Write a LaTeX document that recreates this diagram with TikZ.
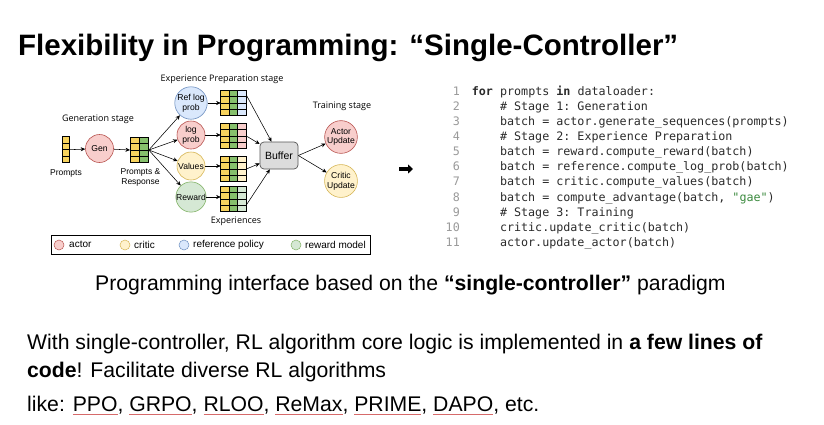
\documentclass[tikz,border=0pt]{standalone}
\usepackage{fontspec}
\setmainfont{Liberation Sans}
\setmonofont{DejaVu Sans Mono}
\newfontfamily\diafont{Open Sans}
\usetikzlibrary{arrows.meta}
\definecolor{actorfill}{HTML}{F8CECC}\definecolor{actordraw}{HTML}{B85450}
\definecolor{criticfill}{HTML}{FFF2CC}\definecolor{criticdraw}{HTML}{D6B656}
\definecolor{reffill}{HTML}{DAE8FC}\definecolor{refdraw}{HTML}{6C8EBF}
\definecolor{rewfill}{HTML}{D5E8D4}\definecolor{rewdraw}{HTML}{82B366}
\definecolor{ycell}{HTML}{F7D35E}\definecolor{gcell}{HTML}{86C06C}
\definecolor{buffill}{HTML}{DCDCDC}\definecolor{bufdraw}{HTML}{555555}
\definecolor{codecol}{HTML}{2B2B2B}\definecolor{numcol}{HTML}{9A9A9A}
\definecolor{strcol}{HTML}{3B8A3E}
\definecolor{linkblue}{HTML}{1C1CB8}\definecolor{ulred}{HTML}{D66A6A}
\newsavebox\lnkbox
\newcommand\lnk[1]{\sbox\lnkbox{#1}\rlap{\color{ulred}\vrule height -2.6pt depth 3.5pt width \wd\lnkbox}\textcolor{linkblue}{\usebox\lnkbox}}
\newcommand\cellgrid[6]{%
  \foreach \cc [count=\ii from 0] in {#6} {
    \foreach \rr in {0,1,2,3} {
      \draw[cellline, fill=\cc] ({#2+\ii*#4},{#3+\rr*6.4}) rectangle ++(#4,6.4);
    }
  }
  \node[inner sep=0, minimum width={#4*#5*1pt}, minimum height=25.6pt, anchor=north west] (#1) at (#2,#3) {};
}
\begin{document}
\begin{tikzpicture}[x=1pt,y=-1pt,
  cellline/.style={draw=black, line width=0.5pt},
  circ/.style={circle, minimum size=28pt, inner sep=0pt, align=center, line width=0.6pt,
     font=\fontsize{8.6}{9.8}\selectfont},
  actorn/.style={circ, fill=actorfill, draw=actordraw},
  criticn/.style={circ, fill=criticfill, draw=criticdraw},
  refn/.style={circ, fill=reffill, draw=refdraw},
  rewn/.style={circ, fill=rewfill, draw=rewdraw},
  arr/.style={-{Stealth[length=4.5pt,width=4pt]}, line width=0.55pt, black},
  stagelbl/.style={font=\diafont\fontsize{9}{10}\selectfont, inner sep=0pt},
  lbl/.style={font=\fontsize{8.5}{10}\selectfont, inner sep=0pt, align=center},
  legc/.style={circle, minimum size=10pt, inner sep=0pt, line width=0.5pt},
  legt/.style={font=\fontsize{10}{11}\selectfont, inner sep=0pt, anchor=west},
  codeln/.style={font=\ttfamily\fontsize{11.7}{12}\selectfont\frenchspacing, text=codecol, anchor=base west, inner sep=0pt},
  numln/.style={font=\ttfamily\fontsize{11.7}{12}\selectfont, text=numcol, anchor=base east, inner sep=0pt},
  bodyt/.style={font=\fontsize{21.2}{23}\selectfont, anchor=base west, inner sep=0pt}
]
\useasboundingbox[fill=white] (0,0) rectangle (824,424);

% title
\node[font=\bfseries\fontsize{29.5}{32}\selectfont, anchor=base west, inner sep=0pt] (title) at (18,55) {Flexibility in Programming: “Single-Controller”};

% ---------- diagram ----------
\node[stagelbl] (genstage) at (98,119) {Generation stage};
\node[stagelbl] (expstage) at (222,79) {Experience Preparation stage};
\node[stagelbl] (trainstage) at (342,106) {Training stage};

\cellgrid{prompts}{62.7}{136.7}{6.6}{1}{ycell}
\node[lbl] (promptslbl) at (66,173) {Prompts};
\node[actorn] (gen) at (99.5,148.5) {Gen};
\cellgrid{pr}{130}{137}{9.2}{2}{ycell,gcell}
\node[lbl] (prlbl) at (140.5,177.5) {Prompts \&\\Response};

\node[refn] (ref) at (191,103) {Ref log\\prob};
\node[actorn] (logp) at (191,135) {log\\prob};
\node[criticn] (val) at (191,166) {Values};
\node[rewn] (rew) at (191,197) {Reward};

\cellgrid{g1}{220.7}{90}{8.4}{3}{ycell,gcell,reffill}
\cellgrid{g2}{220.7}{123}{8.4}{3}{ycell,gcell,actorfill}
\cellgrid{g3}{220.7}{156}{8.4}{3}{ycell,gcell,criticfill}
\cellgrid{g4}{220.7}{186}{8.4}{3}{ycell,gcell,rewfill}
\node[stagelbl] (explbl) at (236,221) {Experiences};

\node[draw=bufdraw, fill=buffill, rounded corners=4pt, line width=0.7pt, minimum width=38pt, minimum height=27pt, inner sep=0pt, font=\fontsize{10.5}{11}\selectfont] (buf) at (279,155.5) {Buffer};

\node[actorn, minimum size=30pt] (actup) at (341,137) {Actor\\Update};
\node[criticn, minimum size=30pt] (critup) at (341,181) {Critic\\Update};

\draw[arr] (prompts.east) -- (gen);
\draw[arr] (gen) -- (pr.west);
\foreach \t in {ref,logp,val,rew} \draw[arr] (pr.east) -- (\t);
\draw[arr] (ref.east) -- (ref.east -| g1.west);
\draw[arr] (logp.east) -- (logp.east -| g2.west);
\draw[arr] (val.east) -- (val.east -| g3.west);
\draw[arr] (rew.east) -- (rew.east -| g4.west);

\coordinate (s1) at ([yshift=-5pt]g1.north east);
\coordinate (s4) at ([yshift=7pt]g4.south east);
\draw[arr] (s1) -- (buf);
\draw[arr] (g2.east) -- (buf);
\draw[arr] (g3.east) -- (buf);
\draw[arr] (s4) -- (buf);
\draw[arr] (buf.east) -- (actup);
\draw[arr] (buf.east) -- (critup);

% legend
\node[draw=black, line width=0.6pt, minimum width=319pt, minimum height=19pt, inner sep=0pt, anchor=north west] (legend) at (51,235.3) {};
\node[legc, fill=actorfill, draw=actordraw] (la) at (59,245) {};
\node[legt] (lat) at (69,244.5) {actor};
\node[legc, fill=criticfill, draw=criticdraw] (lc) at (125,245) {};
\node[legt] (lct) at (134,244.5) {critic};
\node[legc, fill=reffill, draw=refdraw] (lr) at (184,245) {};
\node[legt] (lrt) at (193,244.5) {reference policy};
\node[legc, fill=rewfill, draw=rewdraw] (lw) at (296,245) {};
\node[legt] (lwt) at (305,244.5) {reward model};

% big arrow
\coordinate (ba) at (399,169);
\coordinate (bb) at (413,169);
\draw[line width=4pt, -{Triangle[length=5pt,width=9pt]}] (ba) -- (bb);

% ---------- code ----------
\foreach \n in {1,...,11} \node[numln] (num\n) at (460,{95+15.16*(\n-1)}) {\n};
\node[codeln] (c1) at (471.7,95) {\textbf{for} prompts \textbf{in} dataloader:};
\node[codeln] (c2) at (499.8,{95+15.16*1}) {\# Stage 1: Generation};
\node[codeln] (c3) at (499.8,{95+15.16*2}) {batch = actor.generate\_sequences(prompts)};
\node[codeln] (c4) at (499.8,{95+15.16*3}) {\# Stage 2: Experience Preparation};
\node[codeln] (c5) at (499.8,{95+15.16*4}) {batch = reward.compute\_reward(batch)};
\node[codeln] (c6) at (499.8,{95+15.16*5}) {batch = reference.compute\_log\_prob(batch)};
\node[codeln] (c7) at (499.8,{95+15.16*6}) {batch = critic.compute\_values(batch)};
\node[codeln] (c8) at (499.8,{95+15.16*7}) {batch = compute\_advantage(batch, \textcolor{strcol}{"gae"})};
\node[codeln] (c9) at (499.8,{95+15.16*8}) {\# Stage 3: Training};
\node[codeln] (c10) at (499.8,{95+15.16*9}) {critic.update\_critic(batch)};
\node[codeln] (c11) at (499.8,{95+15.16*10}) {actor.update\_actor(batch)};

% ---------- captions ----------
\node[bodyt] (cap) at (95,290) {Programming interface based on the \textbf{“single-controller”} paradigm};
\node[bodyt] (b1) at (27,349) {With single-controller, RL algorithm core logic is implemented in \textbf{a few lines of}};
\node[bodyt] (b2) at (27,377) {\textbf{code}! Facilitate diverse RL algorithms};
\node[bodyt] (b3) at (27,411) {like: \lnk{PPO}, \lnk{GRPO}, \lnk{RLOO}, \lnk{ReMax}, \lnk{PRIME}, \lnk{DAPO}, etc.};
\end{tikzpicture}
\end{document}
